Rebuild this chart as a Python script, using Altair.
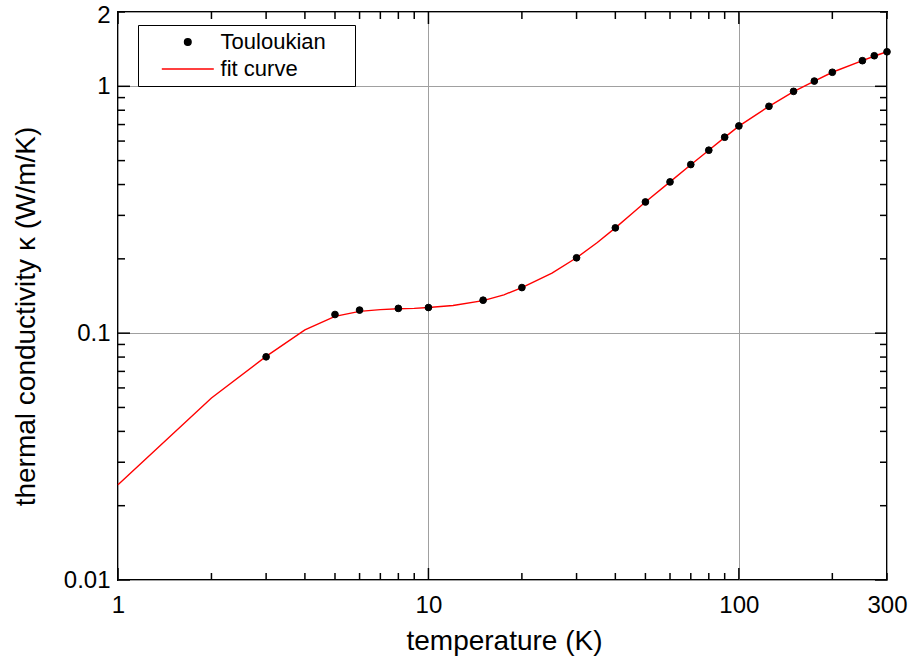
import altair as alt
import pandas as pd

# ---- data ----
tou_T = [3, 5, 6, 8, 10, 15, 20, 30, 40, 50, 60, 70, 80, 90, 100, 125, 150, 175, 200, 250, 273, 300]
tou_k = [0.0802, 0.119, 0.124, 0.126, 0.127, 0.136, 0.153, 0.202, 0.267, 0.340, 0.410, 0.482,
         0.551, 0.622, 0.691, 0.830, 0.954, 1.05, 1.14, 1.27, 1.33, 1.38]

fit_T = [1, 2, 3, 4, 5, 6, 7, 8, 9, 10, 12, 15, 17.5, 20, 25, 30, 35, 40, 45, 50, 60, 70, 80,
         90, 100, 125, 150, 175, 200, 250, 275, 300]
fit_k = [0.0243, 0.0546, 0.0805, 0.103, 0.117, 0.1225, 0.1245, 0.1255, 0.126, 0.127, 0.1295,
         0.1355, 0.143, 0.153, 0.175, 0.202, 0.233, 0.267, 0.303, 0.340, 0.410, 0.481, 0.551,
         0.621, 0.690, 0.830, 0.952, 1.05, 1.14, 1.27, 1.33, 1.38]

series_names = ["Touloukian", "fit curve"]
x_label_values = [1, 10, 100, 300]
y_label_values = [0.01, 0.1, 1, 2]
x_major = [1, 10, 100]
x_minor = [2, 3, 4, 5, 6, 7, 8, 9, 20, 30, 40, 50, 60, 70, 80, 90, 200, 300]
y_major = [0.01, 0.1, 1]
y_minor = [0.02, 0.03, 0.04, 0.05, 0.06, 0.07, 0.08, 0.09,
           0.2, 0.3, 0.4, 0.5, 0.6, 0.7, 0.8, 0.9, 2]

W, H = 769, 568
FONT = "Liberation Sans"
MAJ, MIN = 12, 7

pts = pd.DataFrame({"T": tou_T, "k": tou_k, "s": series_names[0]})
fit = pd.DataFrame({"T": fit_T, "k": fit_k, "s": series_names[1]})

xs = alt.Scale(type="log", domain=[1, 300], nice=False)
ys = alt.Scale(type="log", domain=[0.01, 2], nice=False)

x_axis = alt.Axis(
    values=x_label_values, format="~g", title="temperature (K)",
    labelPadding=32, labelBaseline="alphabetic", labelFlush=False, labelOverlap=False,
    titleX=386, titleY=69, titleBaseline="alphabetic")
y_axis = alt.Axis(
    values=y_label_values, format="~g", title="thermal conductivity κ (W/m/K)",
    labelPadding=8, labelFlush=False, labelOverlap=False,
    labelOffset={"condition": {"test": "datum.value == 2", "value": 3}, "value": 0},
    titleX=-84, titleY=304, titleAngle=270, titleBaseline="alphabetic")

x_enc = alt.X("T:Q", scale=xs, axis=x_axis)
y_enc = alt.Y("k:Q", scale=ys, axis=y_axis)

leg = alt.Legend(
    title=None, orient="none", legendX=20, legendY=13,
    labelFont=FONT, labelFontSize=22, labelColor="black",
    strokeColor="black", fillColor="white", padding=6, cornerRadius=0,
    symbolSize=45, symbolStrokeWidth=1.3, symbolOffset=32.8, labelOffset=21.8,
    rowPadding=5)

# legend line symbol: a 52px stroke; the trailing move-to only widens the legend box
LINE_SYMBOL = "M-7.75,0H7.75M47.1,0"
fill_scale = alt.Scale(domain=series_names, range=["black", "red"])
stroke_scale = alt.Scale(domain=series_names, range=["black", "red"])
shape_scale = alt.Scale(domain=series_names, range=["circle", LINE_SYMBOL])

line = alt.Chart(fit).mark_line(strokeWidth=1.4).encode(
    x=x_enc, y=y_enc,
    stroke=alt.Stroke("s:N", scale=stroke_scale, legend=leg),
)

points = alt.Chart(pts).mark_point(filled=True, size=45, opacity=1, strokeWidth=1).encode(
    x=x_enc, y=y_enc,
    fill=alt.Fill("s:N", scale=fill_scale, legend=leg),
    stroke=alt.Stroke("s:N", scale=stroke_scale, legend=leg),
    shape=alt.Shape("s:N", scale=shape_scale, legend=leg),
)


def xticks(vals, y0, y1):
    return alt.Chart(pd.DataFrame({"T": vals})).mark_rule(color="black", strokeWidth=1.5).encode(
        x=x_enc, y=alt.value(y0), y2=alt.value(y1))


def yticks(vals, x0, x1):
    return alt.Chart(pd.DataFrame({"k": vals})).mark_rule(color="black", strokeWidth=1.5).encode(
        y=y_enc, x=alt.value(x0), x2=alt.value(x1))


tick_layers = [
    xticks(x_major, H, H - MAJ), xticks(x_minor, H, H - MIN),
    xticks(x_major, 0, MAJ), xticks(x_minor, 0, MIN),
    yticks(y_major, 0, MAJ), yticks(y_minor, 0, MIN),
    yticks(y_major, W, W - MAJ), yticks(y_minor, W, W - MIN),
]

chart = alt.layer(line, points, *tick_layers).properties(
    width=W, height=H,
    autosize=alt.AutoSizeParams(type="none"),
    padding={"left": 118, "top": 12, "right": 25, "bottom": 88},
).configure_view(
    stroke="black", strokeWidth=2
).configure_axis(
    labelFont=FONT, labelFontSize=24, labelColor="black",
    titleFont=FONT, titleFontSize=28, titleFontWeight="normal", titleColor="black",
    ticks=False, tickSize=0, domain=False,
    grid=True, gridColor="#a0a0a0", gridWidth=1,
)

chart.save("out.html", embed_options={"renderer": "svg", "actions": False})
